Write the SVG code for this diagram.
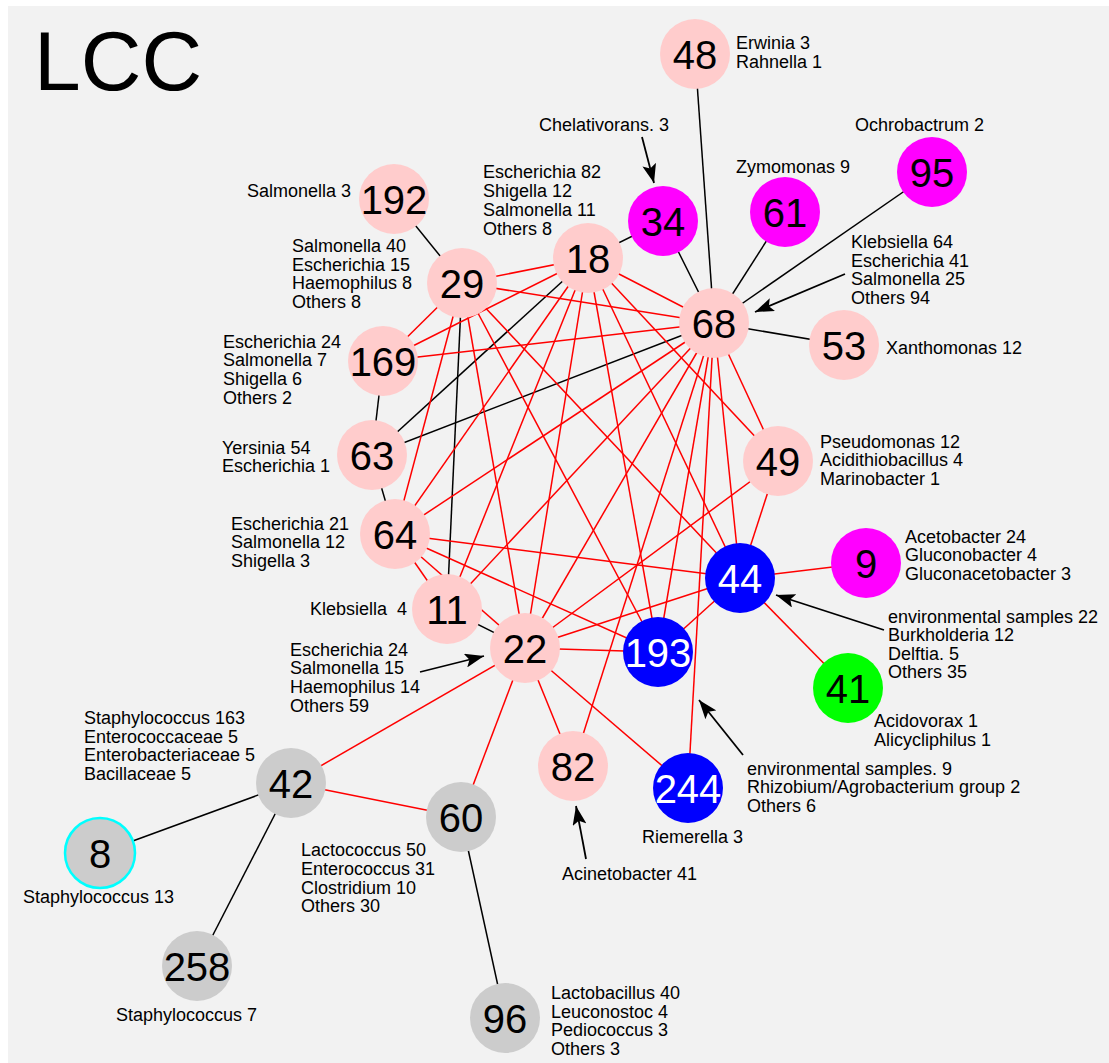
<svg xmlns="http://www.w3.org/2000/svg" width="1109" height="1063" viewBox="0 0 1109 1063">
<style>
text{font-family:"Liberation Sans",Arial,sans-serif;fill:#000}
.lb{font-size:18px}
.num{font-size:40px;text-anchor:middle}
.wn{fill:#fff}
.k{stroke:#000;stroke-width:1.5}
.r{stroke:#ff0000;stroke-width:1.5}
.ar{stroke:#000;stroke-width:1.8;fill:none}
.pk{fill:#ffcccc}.mg{fill:#ff00ff}.bl{fill:#0000ff}.gr{fill:#00ff00}.gy{fill:#cccccc}
</style>
<defs>
<marker id="ah" markerWidth="19" markerHeight="14" refX="19" refY="7" orient="auto" markerUnits="userSpaceOnUse"><path d="M0,0 L19,7 L0,14 L4,7 z" fill="#000"/></marker>
</defs>
<rect x="0" y="0" width="1109" height="1063" fill="#ffffff"/>
<rect x="8" y="6" width="1101" height="1057" fill="#f2f2f2"/>
<text x="34" y="90" font-size="84">LCC</text>
<g id="connectors">
<line class="k" x1="695" y1="54" x2="714" y2="323"/>
<line class="k" x1="663" y1="221" x2="588" y2="258"/>
<line class="k" x1="663" y1="221" x2="714" y2="323"/>
<line class="k" x1="785" y1="212" x2="714" y2="323"/>
<line class="k" x1="932" y1="172" x2="714" y2="323"/>
<line class="k" x1="844" y1="345" x2="714" y2="323"/>
<line class="k" x1="394" y1="199" x2="462" y2="283"/>
<line class="k" x1="383" y1="361" x2="372" y2="455"/>
<line class="k" x1="372" y1="455" x2="395" y2="534"/>
<line class="k" x1="372" y1="455" x2="588" y2="258"/>
<line class="k" x1="372" y1="455" x2="714" y2="323"/>
<line class="k" x1="462" y1="283" x2="447" y2="609"/>
<line class="k" x1="447" y1="609" x2="525" y2="648"/>
<line class="k" x1="291" y1="783" x2="100" y2="853"/>
<line class="k" x1="291" y1="783" x2="197" y2="966"/>
<line class="k" x1="461" y1="817" x2="505" y2="1018"/>
<line class="r" x1="462" y1="283" x2="588" y2="258"/>
<line class="r" x1="462" y1="283" x2="714" y2="323"/>
<line class="r" x1="462" y1="283" x2="383" y2="361"/>
<line class="r" x1="462" y1="283" x2="395" y2="534"/>
<line class="r" x1="462" y1="283" x2="525" y2="648"/>
<line class="r" x1="462" y1="283" x2="658" y2="652"/>
<line class="r" x1="462" y1="283" x2="740" y2="578"/>
<line class="r" x1="588" y1="258" x2="714" y2="323"/>
<line class="r" x1="588" y1="258" x2="383" y2="361"/>
<line class="r" x1="588" y1="258" x2="395" y2="534"/>
<line class="r" x1="588" y1="258" x2="447" y2="609"/>
<line class="r" x1="588" y1="258" x2="525" y2="648"/>
<line class="r" x1="588" y1="258" x2="658" y2="652"/>
<line class="r" x1="588" y1="258" x2="740" y2="578"/>
<line class="r" x1="588" y1="258" x2="778" y2="461"/>
<line class="r" x1="714" y1="323" x2="383" y2="361"/>
<line class="r" x1="714" y1="323" x2="395" y2="534"/>
<line class="r" x1="714" y1="323" x2="447" y2="609"/>
<line class="r" x1="714" y1="323" x2="525" y2="648"/>
<line class="r" x1="714" y1="323" x2="573" y2="766"/>
<line class="r" x1="714" y1="323" x2="658" y2="652"/>
<line class="r" x1="714" y1="323" x2="688" y2="788"/>
<line class="r" x1="714" y1="323" x2="740" y2="578"/>
<line class="r" x1="714" y1="323" x2="778" y2="461"/>
<line class="r" x1="395" y1="534" x2="740" y2="578"/>
<line class="r" x1="395" y1="534" x2="658" y2="652"/>
<line class="r" x1="395" y1="534" x2="525" y2="648"/>
<line class="r" x1="395" y1="534" x2="447" y2="609"/>
<line class="r" x1="525" y1="648" x2="740" y2="578"/>
<line class="r" x1="525" y1="648" x2="658" y2="652"/>
<line class="r" x1="525" y1="648" x2="778" y2="461"/>
<line class="r" x1="525" y1="648" x2="573" y2="766"/>
<line class="r" x1="525" y1="648" x2="688" y2="788"/>
<line class="r" x1="525" y1="648" x2="461" y2="817"/>
<line class="r" x1="525" y1="648" x2="291" y2="783"/>
<line class="r" x1="740" y1="578" x2="866" y2="563"/>
<line class="r" x1="740" y1="578" x2="848" y2="688"/>
<line class="r" x1="740" y1="578" x2="778" y2="461"/>
<line class="r" x1="740" y1="578" x2="658" y2="652"/>
<line class="r" x1="291" y1="783" x2="461" y2="817"/>
<line class="ar" x1="642" y1="137" x2="654" y2="183" marker-end="url(#ah)"/>
<line class="ar" x1="845" y1="274" x2="755" y2="312" marker-end="url(#ah)"/>
<line class="ar" x1="884" y1="630" x2="776" y2="595" marker-end="url(#ah)"/>
<line class="ar" x1="743" y1="755" x2="699" y2="700" marker-end="url(#ah)"/>
<line class="ar" x1="586" y1="859" x2="576" y2="806" marker-end="url(#ah)"/>
<line class="ar" x1="420" y1="672" x2="484" y2="656" marker-end="url(#ah)"/>
</g>
<g id="n48"><circle class="pk" cx="695" cy="54" r="35"/><text class="num" x="695" y="69">48</text><text class="lb" x="736" y="49">Erwinia 3</text><text class="lb" x="736" y="68">Rahnella 1</text></g>
<g id="n34"><circle class="mg" cx="663" cy="221" r="35"/><text class="num" x="663" y="236">34</text><text class="lb" x="539" y="131">Chelativorans. 3</text></g>
<g id="n18"><circle class="pk" cx="588" cy="258" r="35"/><text class="num" x="588" y="273">18</text><text class="lb" x="483" y="178">Escherichia 82</text><text class="lb" x="483" y="197">Shigella 12</text><text class="lb" x="483" y="216">Salmonella 11</text><text class="lb" x="483" y="235">Others 8</text></g>
<g id="n29"><circle class="pk" cx="462" cy="283" r="35"/><text class="num" x="462" y="298">29</text><text class="lb" x="292" y="252">Salmonella 40</text><text class="lb" x="292" y="271">Escherichia 15</text><text class="lb" x="292" y="289">Haemophilus 8</text><text class="lb" x="292" y="308">Others 8</text></g>
<g id="n192"><circle class="pk" cx="394" cy="199" r="35"/><text class="num" x="394" y="214">192</text><text class="lb" x="247" y="197">Salmonella 3</text></g>
<g id="n61"><circle class="mg" cx="785" cy="212" r="35"/><text class="num" x="785" y="227">61</text><text class="lb" x="736" y="173">Zymomonas 9</text></g>
<g id="n95"><circle class="mg" cx="932" cy="172" r="35"/><text class="num" x="932" y="187">95</text><text class="lb" x="855" y="131">Ochrobactrum 2</text></g>
<g id="n68"><circle class="pk" cx="714" cy="323" r="35"/><text class="num" x="714" y="338">68</text><text class="lb" x="851" y="248">Klebsiella 64</text><text class="lb" x="851" y="267">Escherichia 41</text><text class="lb" x="851" y="285">Salmonella 25</text><text class="lb" x="851" y="304">Others 94</text></g>
<g id="n53"><circle class="pk" cx="844" cy="345" r="35"/><text class="num" x="844" y="360">53</text><text class="lb" x="886" y="354">Xanthomonas 12</text></g>
<g id="n169"><circle class="pk" cx="383" cy="361" r="35"/><text class="num" x="383" y="376">169</text><text class="lb" x="223" y="348">Escherichia 24</text><text class="lb" x="223" y="366">Salmonella 7</text><text class="lb" x="223" y="385">Shigella 6</text><text class="lb" x="223" y="404">Others 2</text></g>
<g id="n63"><circle class="pk" cx="372" cy="455" r="35"/><text class="num" x="372" y="470">63</text><text class="lb" x="222" y="454">Yersinia 54</text><text class="lb" x="222" y="472">Escherichia 1</text></g>
<g id="n64"><circle class="pk" cx="395" cy="534" r="35"/><text class="num" x="395" y="549">64</text><text class="lb" x="231" y="530">Escherichia 21</text><text class="lb" x="231" y="548">Salmonella 12</text><text class="lb" x="231" y="567">Shigella 3</text></g>
<g id="n11"><circle class="pk" cx="447" cy="609" r="35"/><text class="num" x="447" y="624">11</text><text class="lb" x="310" y="615" xml:space="preserve">Klebsiella  4</text></g>
<g id="n22"><circle class="pk" cx="525" cy="648" r="35"/><text class="num" x="525" y="663">22</text><text class="lb" x="290" y="656">Escherichia 24</text><text class="lb" x="290" y="674">Salmonella 15</text><text class="lb" x="290" y="693">Haemophilus 14</text><text class="lb" x="290" y="712">Others 59</text></g>
<g id="n193"><circle class="bl" cx="658" cy="652" r="35"/><text class="num wn" x="658" y="667">193</text><text class="lb" x="747" y="775">environmental samples. 9</text><text class="lb" x="747" y="793">Rhizobium/Agrobacterium group 2</text><text class="lb" x="747" y="812">Others 6</text></g>
<g id="n44"><circle class="bl" cx="740" cy="578" r="35"/><text class="num wn" x="740" y="593">44</text><text class="lb" x="888" y="623">environmental samples 22</text><text class="lb" x="888" y="641">Burkholderia 12</text><text class="lb" x="888" y="660">Delftia. 5</text><text class="lb" x="888" y="678">Others 35</text></g>
<g id="n49"><circle class="pk" cx="778" cy="461" r="35"/><text class="num" x="778" y="476">49</text><text class="lb" x="820" y="448">Pseudomonas 12</text><text class="lb" x="820" y="466">Acidithiobacillus 4</text><text class="lb" x="820" y="485">Marinobacter 1</text></g>
<g id="n9"><circle class="mg" cx="866" cy="563" r="35"/><text class="num" x="866" y="578">9</text><text class="lb" x="905" y="543">Acetobacter 24</text><text class="lb" x="905" y="561">Gluconobacter 4</text><text class="lb" x="905" y="580">Gluconacetobacter 3</text></g>
<g id="n41"><circle class="gr" cx="848" cy="688" r="35"/><text class="num" x="848" y="703">41</text><text class="lb" x="874" y="727">Acidovorax 1</text><text class="lb" x="874" y="746">Alicycliphilus 1</text></g>
<g id="n244"><circle class="bl" cx="688" cy="788" r="35"/><text class="num wn" x="688" y="803">244</text><text class="lb" x="642" y="843">Riemerella 3</text></g>
<g id="n82"><circle class="pk" cx="573" cy="766" r="35"/><text class="num" x="573" y="781">82</text><text class="lb" x="562" y="880">Acinetobacter 41</text></g>
<g id="n60"><circle class="gy" cx="461" cy="817" r="35"/><text class="num" x="461" y="832">60</text><text class="lb" x="301" y="856">Lactococcus 50</text><text class="lb" x="301" y="875">Enterococcus 31</text><text class="lb" x="301" y="894">Clostridium 10</text><text class="lb" x="301" y="912">Others 30</text></g>
<g id="n96"><circle class="gy" cx="505" cy="1018" r="35"/><text class="num" x="505" y="1033">96</text><text class="lb" x="551" y="999">Lactobacillus 40</text><text class="lb" x="551" y="1018">Leuconostoc 4</text><text class="lb" x="551" y="1036">Pediococcus 3</text><text class="lb" x="551" y="1055">Others 3</text></g>
<g id="n42"><circle class="gy" cx="291" cy="783" r="35"/><text class="num" x="291" y="798">42</text><text class="lb" x="84" y="724">Staphylococcus 163</text><text class="lb" x="84" y="743">Enterococcaceae 5</text><text class="lb" x="84" y="761">Enterobacteriaceae 5</text><text class="lb" x="84" y="780">Bacillaceae 5</text></g>
<g id="n8"><circle class="gy" cx="100" cy="853" r="35" stroke="#00ffff" stroke-width="2.5"/><text class="num" x="100" y="868">8</text><text class="lb" x="23" y="903">Staphylococcus 13</text></g>
<g id="n258"><circle class="gy" cx="197" cy="966" r="35"/><text class="num" x="197" y="981">258</text><text class="lb" x="116" y="1021">Staphylococcus 7</text></g>
</svg>
